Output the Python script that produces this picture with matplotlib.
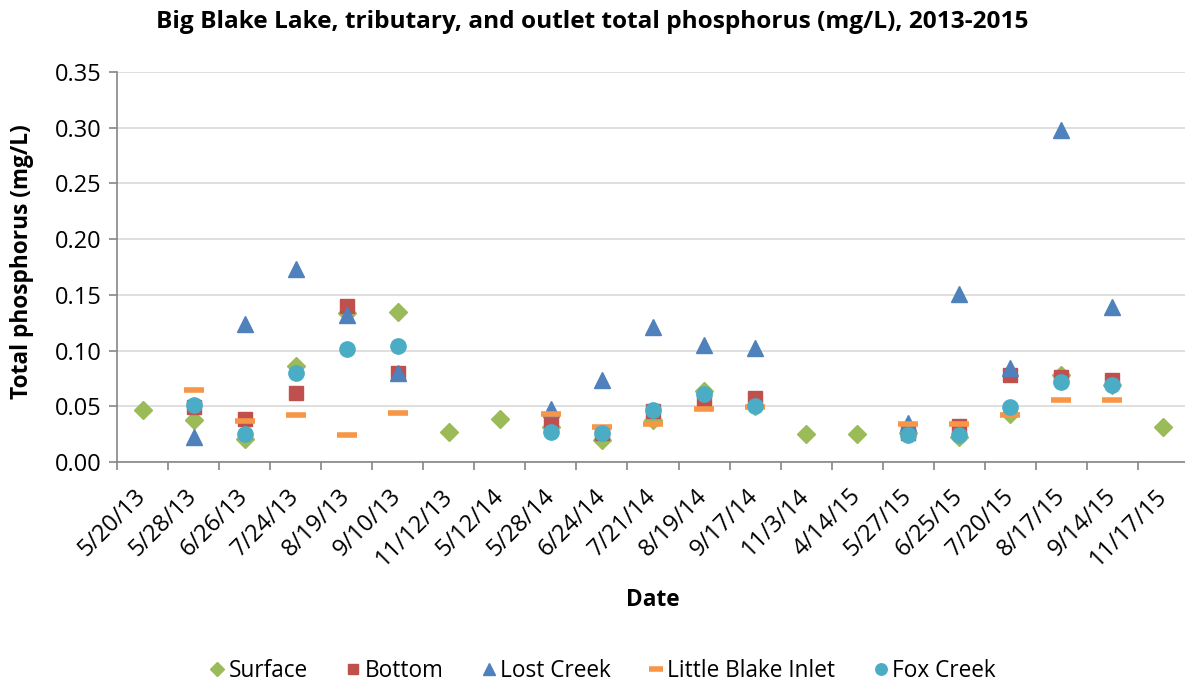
import numpy as np
import matplotlib.pyplot as plt

dates = ['5/20/13', '5/28/13', '6/26/13', '7/24/13', '8/19/13', '9/10/13', '11/12/13',
         '5/12/14', '5/28/14', '6/24/14', '7/21/14', '8/19/14', '9/17/14', '11/3/14',
         '4/14/15', '5/27/15', '6/25/15', '7/20/15', '8/17/15', '9/14/15', '11/17/15']

nan = np.nan
surface = [0.047, 0.038, 0.021, 0.086, 0.134, 0.135, 0.027,
           0.039, 0.031, 0.020, 0.038, 0.064, 0.050, 0.025,
           0.025, 0.026, 0.022, 0.043, 0.078, 0.069, 0.031]
bottom = [nan, 0.049, 0.039, 0.062, 0.140, 0.080, nan,
          nan, 0.038, 0.026, 0.046, 0.056, 0.057, nan,
          nan, 0.026, 0.032, 0.078, 0.076, 0.074, nan]
lost_creek = [nan, 0.022, 0.124, 0.173, 0.132, 0.080, nan,
              nan, 0.048, 0.074, 0.121, 0.105, 0.102, nan,
              nan, 0.035, 0.151, 0.084, 0.298, 0.139, nan]
little_blake = [nan, 0.065, 0.037, 0.042, 0.024, 0.044, nan,
                nan, 0.043, 0.031, 0.034, 0.048, 0.049, nan,
                nan, 0.034, 0.034, 0.042, 0.056, 0.056, nan]
fox_creek = [nan, 0.051, 0.025, 0.080, 0.101, 0.104, nan,
             nan, 0.027, 0.026, 0.047, 0.061, 0.050, nan,
             nan, 0.024, 0.024, 0.049, 0.072, 0.069, nan]

plt.rcParams['font.family'] = ['Open Sans', 'DejaVu Sans']

fig = plt.figure(figsize=(11.85, 6.85), dpi=100)
ax = fig.add_axes([117 / 1185, (685 - 462) / 685, 1072 / 1185, 390 / 685])

x = np.arange(len(dates))
ax.plot(x, surface, 'D', color='#9BBB59', ms=9, mec='#9BBB59', label='Surface', zorder=3)
ax.plot(x, bottom, 's', color='#C0504D', ms=10, mec='#C0504D', label='Bottom', zorder=3)
ax.plot(x, lost_creek, '^', color='#4F81BD', ms=12, mec='#4F81BD', label='Lost Creek', zorder=3)
ax.plot(x, little_blake, '_', color='#F79646', ms=14, mew=4, label='Little Blake Inlet', zorder=3)
ax.plot(x, fox_creek, 'o', color='#4BACC6', ms=11, mec='#4BACC6', label='Fox Creek', zorder=3)

ax.set_xlim(-0.5, len(dates) - 0.5)
ax.set_ylim(0, 0.35)
yt = np.arange(0, 0.351, 0.05)
ax.set_yticks(yt)
ax.set_yticklabels(['%.2f' % v for v in yt], fontsize=17)
ax.yaxis.grid(True, color='#D9D9D9', lw=1.2)
ax.set_axisbelow(True)

ax.set_xticks(np.arange(-0.5, len(dates), 1.0))
ax.set_xticklabels([])
ax.set_xticks(x, minor=True)
ax.set_xticklabels(dates, minor=True, rotation=45, ha='right', va='center',
                   rotation_mode='anchor', fontsize=17)
ax.tick_params(axis='x', which='minor', length=0, pad=22)
ax.tick_params(axis='x', which='major', length=6, color='#868686', width=1.2)
ax.tick_params(axis='y', length=6, color='#868686', width=1.2, pad=5)

for s in ['top', 'right']:
    ax.spines[s].set_visible(False)
for s in ['left', 'bottom']:
    ax.spines[s].set_color('#868686')
    ax.spines[s].set_linewidth(1.2)

fig.text(592 / 1185, 1 - 22 / 685, 'Big Blake Lake, tributary, and outlet total phosphorus (mg/L), 2013-2015',
         ha='center', va='center', fontsize=17.6, fontweight='bold')
fig.text(653 / 1185, 1 - 600 / 685, 'Date', ha='center', va='center', fontsize=16.3, fontweight='bold')
fig.text(22 / 1185, 1 - 262 / 685, 'Total phosphorus (mg/L)', ha='center', va='center',
         rotation=90, fontsize=16.3, fontweight='bold')

fig.legend(loc='center', bbox_to_anchor=(0.508, 1 - 671 / 685), ncol=5, frameon=False,
           fontsize=16.3, handletextpad=0.1, columnspacing=1.6, handlelength=0.8,
           markerscale=0.75)

fig.savefig('out.png', dpi=100)
